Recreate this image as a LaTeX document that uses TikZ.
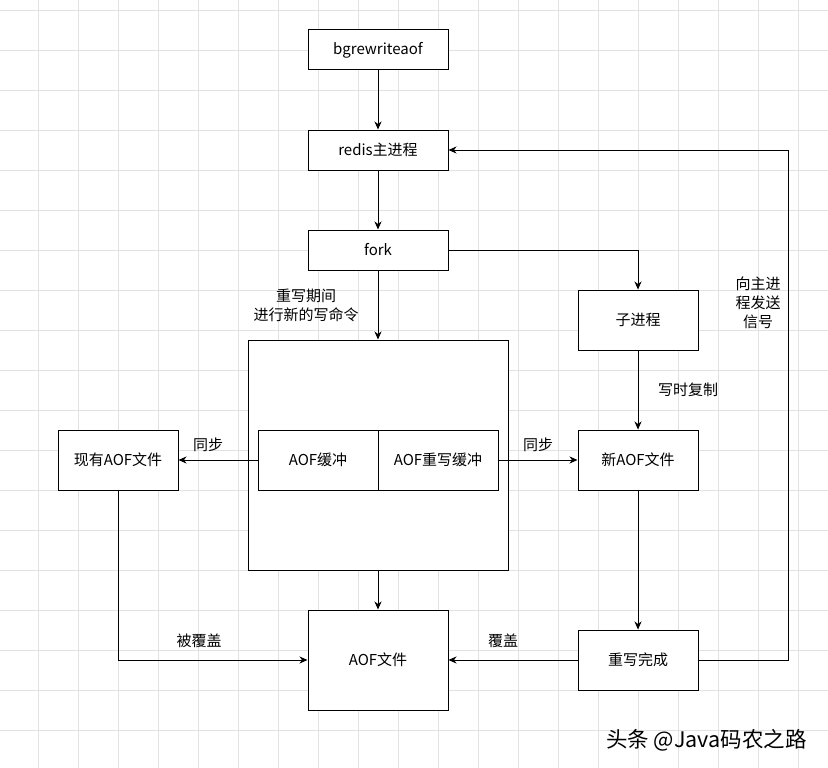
\documentclass[tikz,border=0pt]{standalone}
\usepackage{fontspec}
\setmainfont{Noto Sans CJK SC}
\usetikzlibrary{arrows.meta}
\definecolor{gridc}{HTML}{E2E2E2}
\tikzset{
  box/.style={draw=black, line width=1pt, fill=white, minimum width=120pt, minimum height=60pt, inner sep=0pt, font=\fontsize{15}{18}\selectfont},
  widebox/.style={box, minimum width=140pt, minimum height=40pt},
  conn/.style={draw=black, line width=1pt, -{Stealth[length=8pt,width=7pt,inset=2.5pt]}},
  lbl/.style={font=\fontsize{15}{19}\selectfont, align=center, inner sep=0pt},
  gridline/.style={draw=gridc, line width=0.8pt}
}
\begin{document}
\begin{tikzpicture}[x=1pt,y=-1pt]
\useasboundingbox (0,0) rectangle (828,768);
\fill[white] (0,0) rectangle (828,768);
\foreach \gx in {38,78,...,798} {\draw[gridline] (\gx,0) -- (\gx,768);}
\foreach \gy in {10,50,...,730} {\draw[gridline] (0,\gy) -- (828,\gy);}

\node[widebox] (bg) at (378,50) {bgrewriteaof};
\node[widebox] (redis) at (378,150) {redis主进程};
\node[widebox] (fork) at (378,250) {fork};
\node[box] (child) at (638,320) {子进程};
\node[box, minimum width=260pt, minimum height=230pt] (big) at (378,455) {};
\node[box] (aofbuf) at (318,460) {AOF缓冲};
\node[box] (rwbuf) at (438,460) {AOF重写缓冲};
\node[box] (exist) at (118,460) {现有AOF文件};
\node[box] (newaof) at (638,460) {新AOF文件};
\node[box, minimum width=140pt, minimum height=100pt] (aof) at (378,660) {AOF文件};
\node[box] (done) at (638,660) {重写完成};
\coordinate (rc) at (788,660);

\draw[conn] (bg) -- (redis);
\draw[conn] (redis) -- (fork);
\draw[conn] (fork.east) -| (child.north);
\draw[conn] (fork) -- (big);
\draw[conn] (child) -- (newaof);
\draw[conn] (aofbuf.west) -- (exist.east);
\draw[conn] (rwbuf.east) -- (newaof.west);
\draw[conn] (newaof) -- (done);
\draw[conn] (big) -- (aof);
\draw[conn] (exist.south) |- (aof.west);
\draw[conn] (done.west) -- (aof.east);
\draw[conn] (done.east) -- (rc) |- (redis.east);

\node[lbl] (l1) at (306,305) {重写期间\\进行新的写命令};
\node[lbl] (l2) at (688,390) {写时复制};
\node[lbl] (l3) at (758,303) {向主进\\程发送\\信号};
\node[lbl] (l4) at (208,445) {同步};
\node[lbl] (l5) at (538,445) {同步};
\node[lbl] (l6) at (199,641) {被覆盖};
\node[lbl] (l7) at (503,641) {覆盖};
\node[lbl, font=\fontsize{21.5}{25}\selectfont, anchor=west] (wm) at (606,740) {头条 @Java码农之路};
\end{tikzpicture}
\end{document}
